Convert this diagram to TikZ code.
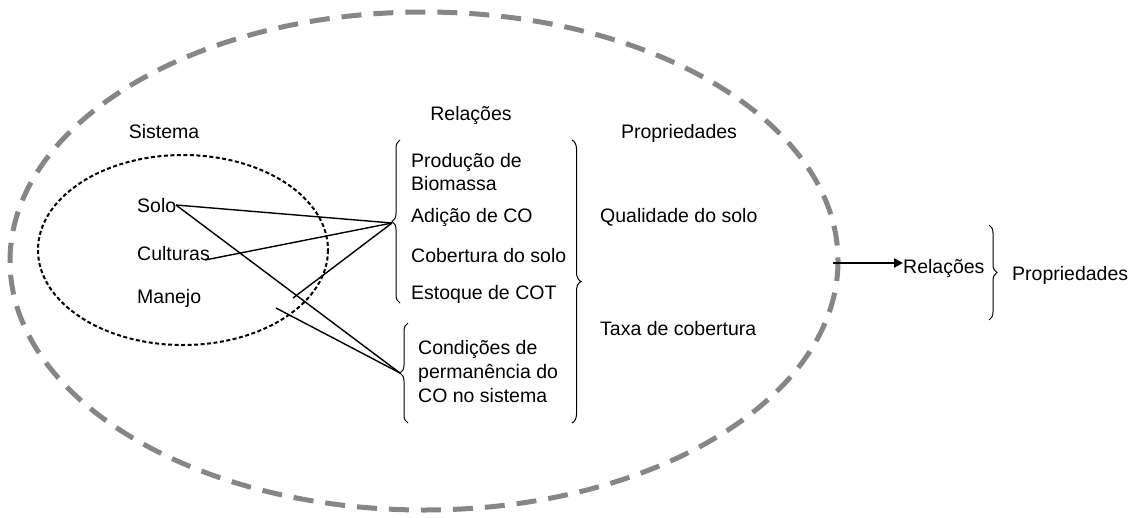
\documentclass[tikz,border=0pt]{standalone}
\usepackage{fontspec}
\setmainfont{Liberation Sans}
\usetikzlibrary{arrows.meta,decorations.pathreplacing}
\begin{document}
\begin{tikzpicture}[x=1pt,y=-1pt,
  lbl/.style={anchor=base west,inner sep=0pt,font=\fontsize{19.5}{23}\selectfont},
  clbl/.style={anchor=base,inner sep=0pt,font=\fontsize{19.5}{23}\selectfont},
  conn/.style={line width=1.4pt},
  brc/.style={line width=1pt,decorate,decoration={brace,amplitude=8pt}}]
\useasboundingbox (0,0) rectangle (1132,517);
% outer ellipse
\draw[gray!95,line width=5pt,dash pattern=on 20pt off 12pt] (424,261) ellipse [x radius=414, y radius=249];
% inner ellipse
\draw[line width=2pt,dash pattern=on 4pt off 2.5pt] (183,250) ellipse [x radius=145, y radius=95];
% texts
\node[clbl] (sistema) at (164,138) {Sistema};
\node[clbl] (relT) at (471,120) {Relações};
\node[clbl] (propT) at (679,138) {Propriedades};
\node[lbl] (solo) at (137,212) {Solo};
\node[lbl] (cult) at (137,260) {Culturas};
\node[lbl] (manejo) at (137,303) {Manejo};
\node[lbl] (r1) at (411,167) {Produção de};
\node[lbl] (r1b) at (411,190) {Biomassa};
\node[lbl] (r2) at (411,222) {Adição de CO};
\node[lbl] (r3) at (411,262) {Cobertura do solo};
\node[lbl] (r4) at (411,299) {Estoque de COT};
\node[lbl] (c1) at (418,354) {Condições de};
\node[lbl] (c2) at (418,378) {permanência do};
\node[lbl] (c3) at (418,402) {CO no sistema};
\node[lbl] (q) at (600,222) {Qualidade do solo};
\node[lbl] (t) at (600,335) {Taxa de cobertura};
\node[lbl] (relR) at (903,273) {Relações};
\node[lbl] (propR) at (1012,280) {Propriedades};
% braces
\draw[brc] (400,303) -- (400,140);
\draw[brc] (408,423) -- (408,323);
\draw[brc,decoration={brace,amplitude=9pt}] (572,140) -- (572,423);
\draw[brc] (989,225) -- (989,320);
\coordinate (tip1) at (392,223);
\coordinate (tip2) at (400,373);
\coordinate (soloE) at (176,205);
\coordinate (cultE) at (205,260);
\coordinate (m1) at (293,298);
\coordinate (m2) at (276,308);
\coordinate (edge) at (833,263);
% connectors
\draw[conn] (soloE) -- (tip1);
\draw[conn] (cultE) -- (tip1);
\draw[conn] (m1) -- (tip1);
\draw[conn] (soloE) -- (tip2);
\draw[conn] (m2) -- (tip2);
\draw[line width=2.5pt,-{Triangle[length=9pt,width=9pt]}] (edge) -- (relR.west |- edge);
\end{tikzpicture}
\end{document}
